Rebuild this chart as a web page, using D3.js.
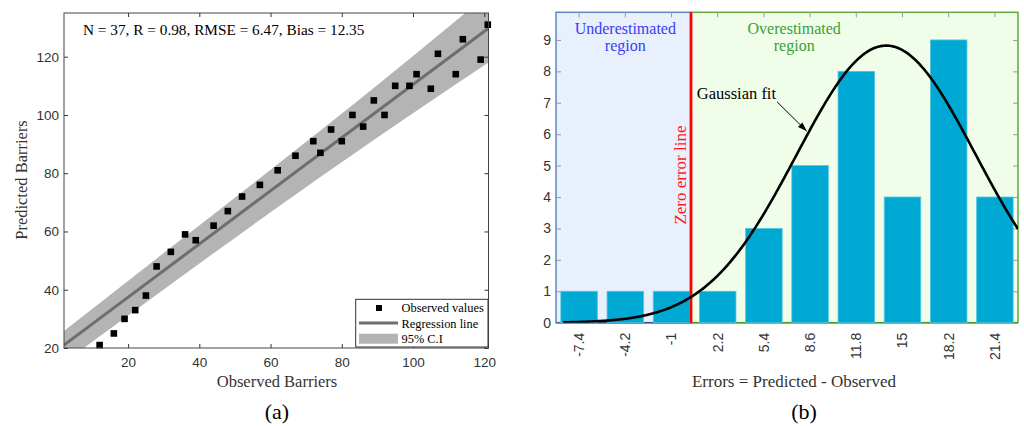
<!DOCTYPE html>
<html><head><meta charset="utf-8">
<script src="https://cdn.jsdelivr.net/npm/d3@7"></script>
<style>body{margin:0;background:#fff} svg{display:block}</style>
</head><body><svg id="c" width="1024" height="426"></svg>
<script>
// ---------- Panel (a) data ----------
const observed  = [12,16,19,22,25,28,32,36,39,44,48,52,57,62,67,72,74,77,80,83,86,89,92,95,99,101,105,107,112,114,119,121];
const predicted = [21,25,30,33,38,48,53,59,57,62,67,72,76,81,86,91,87,95,91,100,96,105,100,110,110,114,109,121,114,126,119,131];
const regX = [2, 121.2];
const regY = [21.0, 129.8];
const ciX    = [2, 30, 60, 90, 121.2];
const ciLow  = [15.0, 40.1, 66.6, 92.3, 118.0];
const ciHigh = [25.8, 52.6, 81.2, 110.3, 141.6];
const xTicksA = [20,40,60,80,100,120];
const yTicksA = [20,40,60,80,100,120];
const statsText = "N = 37, R = 0.98, RMSE = 6.47, Bias = 12.35";
const legendLabels = ["Observed values", "Regression line", "95% C.I"];

// ---------- Panel (b) data ----------
const errBins = ["-7.4","-4.2","-1","2.2","5.4","8.6","11.8","15","18.2","21.4"];
const errCenters = [-7.4,-4.2,-1,2.2,5.4,8.6,11.8,15,18.2,21.4];
const counts  = [1,1,1,1,3,5,8,4,9,4];
const yTicksB = [0,1,2,3,4,5,6,7,8,9];
const gaussMean = 13.87, gaussSigma = 6.2, gaussPeak = 8.82;
const gaussFrom = -8.5, gaussTo = 23.0;
const zeroLineAt = 0.35;

const svg = d3.select("#c");
const serif = "'Liberation Serif', 'Times New Roman', serif";
const sans = "'Liberation Sans', Arial, sans-serif";

// ================= Panel (a) =================
const xA = d3.scaleLinear().domain([2, 121.2]).range([64, 488.5]);
const yA = d3.scaleLinear().domain([20, 135]).range([348, 13]);
const gA = svg.append("g");
gA.append("clipPath").attr("id","clipA").append("rect")
  .attr("x",64).attr("y",13).attr("width",424.5).attr("height",335);

const band = d3.area().x((d,i)=>xA(ciX[i])).y0((d,i)=>yA(ciLow[i])).y1((d,i)=>yA(ciHigh[i]))
  .curve(d3.curveMonotoneX);
gA.append("path").datum(ciX).attr("d", band).attr("fill","#b4b4b4").attr("clip-path","url(#clipA)");
gA.append("path").datum(regX)
  .attr("d", d3.line().x((d,i)=>xA(regX[i])).y((d,i)=>yA(regY[i])))
  .attr("stroke","#6e6e6e").attr("stroke-width",3).attr("fill","none").attr("clip-path","url(#clipA)");
gA.selectAll("rect.pt").data(observed).join("rect").attr("class","pt")
  .attr("x",(d)=>xA(d)-3.3).attr("y",(d,i)=>yA(predicted[i])-3.3)
  .attr("width",6.6).attr("height",6.6).attr("fill","#000");

// axes
function styleAxis(g, labels){
  g.select(".domain").remove();
  g.selectAll(".tick line").attr("stroke","#333");
  g.selectAll(".tick text").attr("fill","#333").style("font-family",sans).style("font-size","13.5px");
  if(!labels) g.selectAll(".tick text").remove();
}
gA.append("g").attr("transform","translate(0,348)")
  .call(d3.axisBottom(xA).tickValues(xTicksA).tickSize(-4).tickSizeOuter(0).tickPadding(9))
  .call(g=>styleAxis(g,true));
gA.append("g").attr("transform","translate(0,13)")
  .call(d3.axisTop(xA).tickValues(xTicksA).tickSize(-4).tickSizeOuter(0))
  .call(g=>styleAxis(g,false));
gA.append("g").attr("transform","translate(64,0)")
  .call(d3.axisLeft(yA).tickValues(yTicksA).tickSize(-4).tickSizeOuter(0).tickPadding(5))
  .call(g=>styleAxis(g,true));
gA.append("g").attr("transform","translate(488.5,0)")
  .call(d3.axisRight(yA).tickValues(yTicksA).tickSize(-4).tickSizeOuter(0))
  .call(g=>styleAxis(g,false));
gA.append("rect").attr("x",64).attr("y",13).attr("width",424.5).attr("height",335)
  .attr("fill","none").attr("stroke","#444").attr("stroke-width",1);

gA.append("text").attr("x",83).attr("y",35).text(statsText)
  .style("font-family",serif).style("font-size","15.3px").attr("fill","#000");
gA.append("text").attr("transform","translate(27,180) rotate(-90)").attr("text-anchor","middle")
  .text("Predicted Barriers").style("font-family",serif).style("font-size","16.5px").attr("fill","#333");
gA.append("text").attr("x",277).attr("y",387).attr("text-anchor","middle")
  .text("Observed Barriers").style("font-family",serif).style("font-size","16.5px").attr("fill","#333");
gA.append("text").attr("x",277).attr("y",419).attr("text-anchor","middle")
  .text("(a)").style("font-family",serif).style("font-size","22px").attr("fill","#000");

// legend
const lg = gA.append("g");
lg.append("rect").attr("x",355.7).attr("y",299.3).attr("width",132.3).attr("height",47.7)
  .attr("fill","#fff").attr("stroke","#333").attr("stroke-width",1);
lg.append("rect").attr("x",376).attr("y",305).attr("width",6).attr("height",6).attr("fill","#000");
lg.append("line").attr("x1",359).attr("x2",398).attr("y1",323).attr("y2",323)
  .attr("stroke","#6e6e6e").attr("stroke-width",3);
lg.append("rect").attr("x",359).attr("y",333.7).attr("width",39).attr("height",10).attr("fill","#b4b4b4");
lg.selectAll("text").data(legendLabels).join("text")
  .attr("x",401.5).attr("y",(d,i)=>312.3+i*15.3).text(d=>d)
  .style("font-family",serif).style("font-size","12.4px").attr("fill","#000");

// ================= Panel (b) =================
const L = 556, R = 1018, T = 12.3, B = 322.7;
const xB = d3.scaleBand().domain(errBins).range([L, R]).paddingInner(0.21).paddingOuter(0.105);
const xE = d3.scaleLinear().domain([errCenters[0], errCenters[errCenters.length-1]])
  .range([xB(errBins[0]) + xB.bandwidth()/2, xB(errBins[errBins.length-1]) + xB.bandwidth()/2]);
const yB = d3.scaleLinear().domain([0, 9.88]).range([B, T]);
const gB = svg.append("g");
const zx = xE(zeroLineAt);

gB.append("rect").attr("x",L).attr("y",T).attr("width",zx-L).attr("height",B-T)
  .attr("fill","#e8effd").attr("stroke","#6386c4").attr("stroke-width",1.5);
gB.append("rect").attr("x",zx).attr("y",T).attr("width",R-zx).attr("height",B-T)
  .attr("fill","#f0fde9").attr("stroke","#5fa83c").attr("stroke-width",1.5);
gB.append("line").attr("x1",L).attr("x2",zx).attr("y1",B).attr("y2",B).attr("stroke","#34558f").attr("stroke-width",1.5);
gB.append("line").attr("x1",zx).attr("x2",R).attr("y1",B).attr("y2",B).attr("stroke","#4a9a28").attr("stroke-width",1.5);

gB.append("clipPath").attr("id","clipB").append("rect")
  .attr("x",L).attr("y",T).attr("width",R-L).attr("height",B-T);

gB.selectAll("rect.bar").data(counts).join("rect").attr("class","bar")
  .attr("x",(d,i)=>xB(errBins[i])).attr("y",d=>yB(d)).attr("width",xB.bandwidth())
  .attr("height",d=>B-yB(d)).attr("fill","#00a8d4").attr("stroke","#52c4e2").attr("stroke-width",0.8);

// ticks
function styleB(g, labels){
  g.select(".domain").remove();
  g.selectAll(".tick line").attr("stroke","#9a9a9a");
  g.selectAll(".tick text").attr("fill","#333").style("font-family",sans).style("font-size","14px");
  if(!labels) g.selectAll(".tick text").remove();
}
gB.append("g").attr("transform",`translate(${L},0)`)
  .call(d3.axisLeft(yB).tickValues(yTicksB).tickSize(-5).tickSizeOuter(0).tickPadding(5))
  .call(g=>styleB(g,true));
gB.append("g").attr("transform",`translate(${R},0)`)
  .call(d3.axisRight(yB).tickValues(yTicksB.slice(1)).tickSize(-5).tickSizeOuter(0))
  .call(g=>styleB(g,false));
gB.append("g").attr("transform",`translate(0,${T})`)
  .call(d3.axisTop(xB).tickSize(-5).tickSizeOuter(0))
  .call(g=>styleB(g,false));
const xa = gB.append("g").attr("transform",`translate(0,${B})`)
  .call(d3.axisBottom(xB).tickSize(0).tickSizeOuter(0));
styleB(xa,true);
xa.selectAll(".tick text").attr("transform","rotate(-90)").attr("text-anchor","end")
  .attr("x",-10).attr("y",0).attr("dy","0.35em");

// zero line
gB.append("line").attr("x1",zx).attr("x2",zx).attr("y1",T).attr("y2",B)
  .attr("stroke","#ff0000").attr("stroke-width",2.8);

// gaussian fit
const gx = d3.range(gaussFrom, gaussTo + 0.001, 0.1);
gB.append("path").datum(gx)
  .attr("d", d3.line().x(d=>xE(d)).y(d=>yB(gaussPeak*Math.exp(-((d-gaussMean)**2)/(2*gaussSigma*gaussSigma)))))
  .attr("fill","none").attr("stroke","#000").attr("stroke-width",2.6).attr("clip-path","url(#clipB)");

// texts
gB.append("text").attr("text-anchor","middle").attr("fill","#3b3bf5")
  .style("font-family",serif).style("font-size","16px")
  .selectAll("tspan").data(["Underestimated","region"]).join("tspan")
  .attr("x",xE(-4.2)).attr("y",(d,i)=>yB(9.19) + i*17).text(d=>d);
gB.append("text").attr("text-anchor","middle").attr("fill","#38a038")
  .style("font-family",serif).style("font-size","16px")
  .selectAll("tspan").data(["Overestimated","region"]).join("tspan")
  .attr("x",xE(7.5)).attr("y",(d,i)=>yB(9.19) + i*17).text(d=>d);
gB.append("text").attr("transform",`translate(${zx-5},${yB(4.7)}) rotate(-90)`).attr("text-anchor","middle")
  .attr("fill","#ff1a1a").style("font-family",serif).style("font-size","17px").text("Zero error line");

svg.append("defs").append("marker").attr("id","arr").attr("viewBox","0 0 10 10")
  .attr("refX",10).attr("refY",5).attr("markerWidth",9).attr("markerHeight",9)
  .attr("markerUnits","userSpaceOnUse").attr("orient","auto")
  .append("path").attr("d","M0,1.5 L10,5 L0,8.5 Z").attr("fill","#000");
gB.append("text").attr("x",xE(0.75)).attr("y",yB(7.12)).text("Gaussian fit")
  .style("font-family",serif).style("font-size","16.5px").attr("fill","#000");
gB.append("line").attr("x1",xE(6.31)).attr("y1",yB(7.03)).attr("x2",xE(8.36)).attr("y2",yB(6.1))
  .attr("stroke","#000").attr("stroke-width",1).attr("marker-end","url(#arr)");

gB.append("text").attr("x",(L+R)/2 + 7).attr("y",387).attr("text-anchor","middle")
  .text("Errors = Predicted - Observed").style("font-family",serif).style("font-size","17px").attr("fill","#333");
gB.append("text").attr("x",804).attr("y",419).attr("text-anchor","middle")
  .text("(b)").style("font-family",serif).style("font-size","22px").attr("fill","#000");
</script></body></html>
